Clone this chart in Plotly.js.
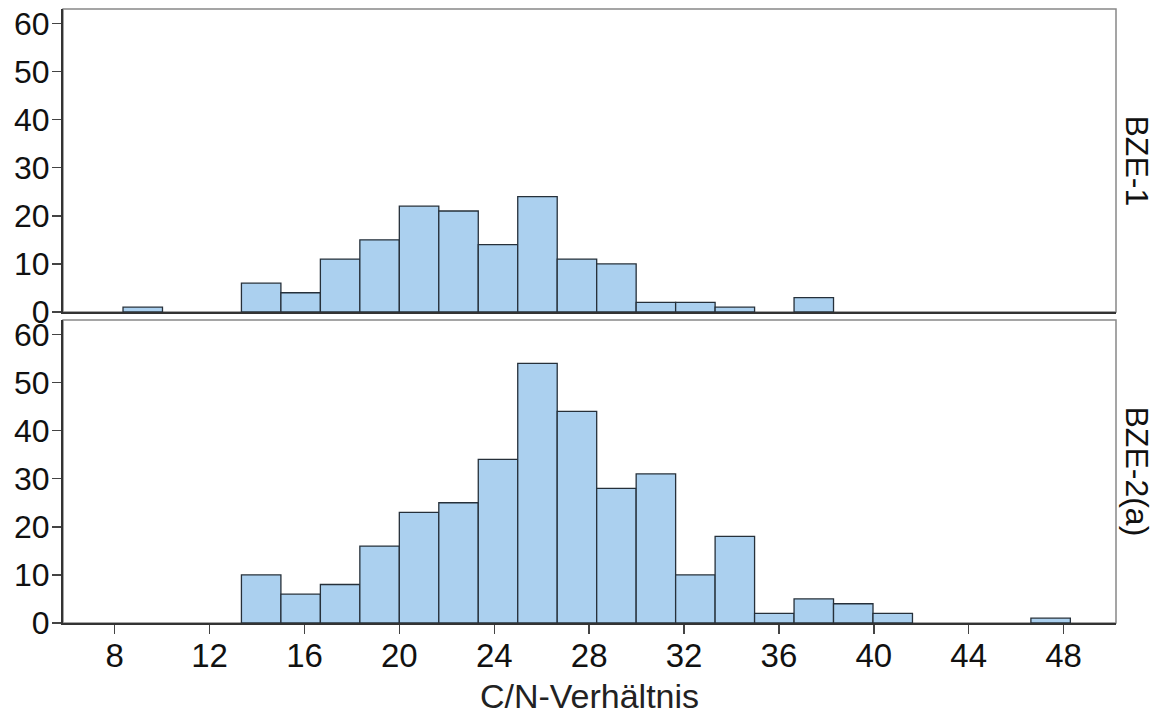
<!DOCTYPE html>
<html>
<head>
<meta charset="utf-8">
<script src="https://cdn.plot.ly/plotly-3.0.1.min.js"></script>
<style>html,body{margin:0;padding:0;background:#fff;}#chart{width:1156px;height:719px;}</style>
</head>
<body>
<div id="chart"></div>
<script>
// Histogram bins (C/N ratio), first bin lower edge and bin width
const binStart = 8.35;
const binWidth = 1.664;
// Counts per bin (bins 0..23)
const countsBZE1 = [1,0,0,6,4,11,15,22,21,14,24,11,10,2,2,1,0,3,0,0,0,0,0,0];
const countsBZE2 = [0,0,0,10,6,8,16,23,25,34,54,44,28,31,10,18,2,5,4,2,0,0,0,1];
const panelLabels = ["BZE-1", "BZE-2(a)"];
const xTicks = [8,12,16,20,24,28,32,36,40,44,48];
const yTicks = [0,10,20,30,40,50,60];
const xTitle = "C/N-Verhältnis";

const centers = countsBZE1.map((_, i) => binStart + (i + 0.5) * binWidth);
const nz = arr => arr.map(v => v === 0 ? null : v);

const fill = '#abd0ef';
const edge = '#26303a';
const font = '"Liberation Sans", Arial, sans-serif';

const traces = [
  {type:'bar', x: centers, y: nz(countsBZE1), width: binWidth, xaxis:'x2', yaxis:'y2',
   marker:{color: fill, line:{color: edge, width:1.3}}, hoverinfo:'x+y'},
  {type:'bar', x: centers, y: nz(countsBZE2), width: binWidth, xaxis:'x', yaxis:'y',
   marker:{color: fill, line:{color: edge, width:1.3}}, hoverinfo:'x+y'}
];

const xr = [5.82, 50.21];
const yr = [0, 63];
const yax = (dom) => ({
  domain: dom, range: yr, tickvals: yTicks, ticks:'outside', ticklen:9, tickwidth:1.5,
  tickcolor:'#444', showline:true, linecolor:'#333', linewidth:2, showgrid:false, zeroline:false,
  tickfont:{family: font, size:32, color:'#111'}, ticklabelstandoff: -4
});

const layout = {
  width:1156, height:719,
  margin:{l:63, r:40, t:9, b:96},
  paper_bgcolor:'#fff', plot_bgcolor:'#fff',
  showlegend:false, bargap:0,
  xaxis:{domain:[0,1], range: xr, anchor:'y', tickvals: xTicks, ticks:'outside', ticklen:9, tickwidth:1.5,
    tickcolor:'#444', showline:true, linecolor:'#333', linewidth:2, showgrid:false, zeroline:false,
    tickfont:{family: font, size:33, color:'#111'}, ticklabelstandoff: -7,
    title:{text: xTitle, font:{family: font, size:34, color:'#222'}, standoff: 12}},
  xaxis2:{domain:[0,1], range: xr, anchor:'y2', matches:'x', showticklabels:false, ticks:'',
    showline:true, linecolor:'#333', linewidth:2, showgrid:false, zeroline:false},
  yaxis: yax([0, 0.4935]),
  yaxis2: Object.assign(yax([0.5065, 1]), {anchor:'x2'}),
  shapes:[
    {type:'rect', xref:'x domain', yref:'y domain', x0:0, x1:1, y0:0, y1:1, layer:'below',
     line:{color:'#888', width:1.5}},
    {type:'rect', xref:'x2 domain', yref:'y2 domain', x0:0, x1:1, y0:0, y1:1, layer:'below',
     line:{color:'#888', width:1.5}}
  ],
  annotations:[
    {text: panelLabels[0], xref:'paper', yref:'y2 domain', x:1, y:0.5, xanchor:'center', yanchor:'middle',
     xshift:21, textangle:90, showarrow:false, font:{family: font, size:32, color:'#111'}},
    {text: panelLabels[1], xref:'paper', yref:'y domain', x:1, y:0.5, xanchor:'center', yanchor:'middle',
     xshift:21, textangle:90, showarrow:false, font:{family: font, size:32, color:'#111'}}
  ]
};

Plotly.newPlot('chart', traces, layout, {displayModeBar:false, staticPlot:true});
</script>
</body>
</html>
